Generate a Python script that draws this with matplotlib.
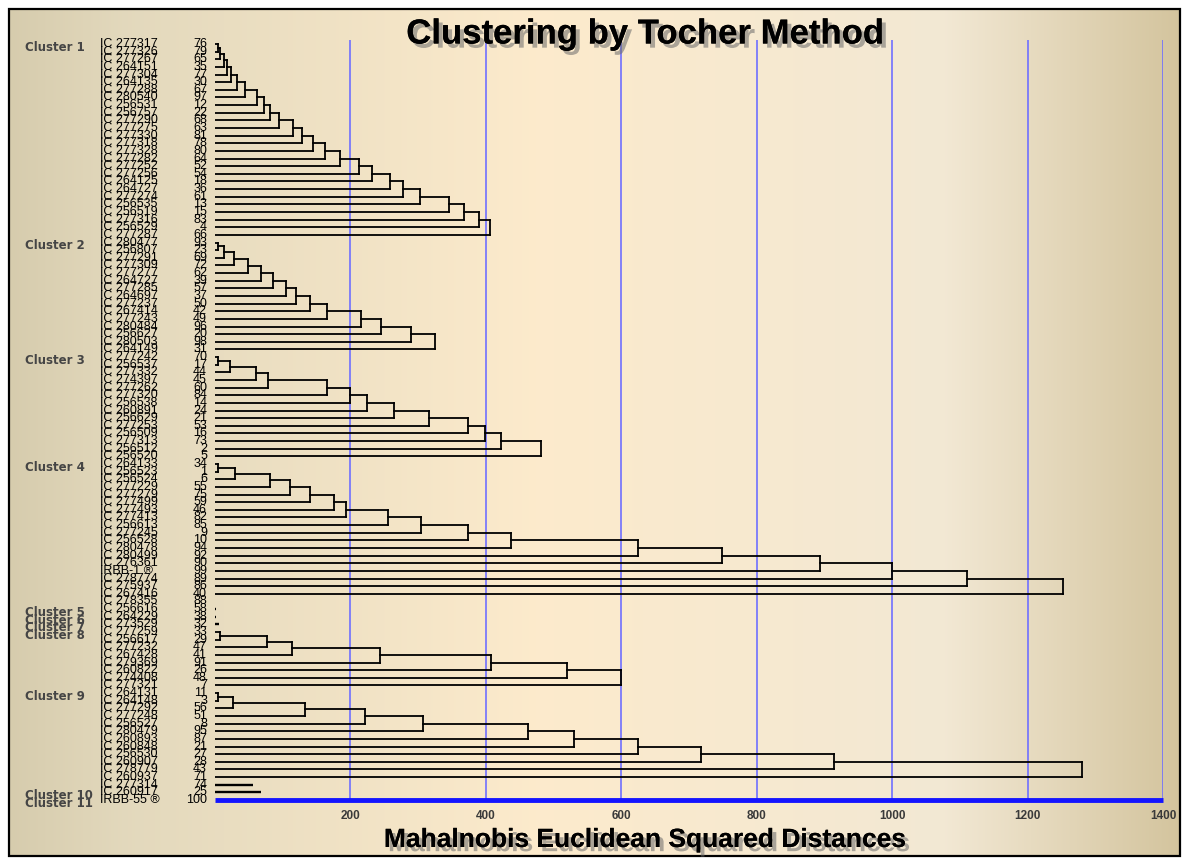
import numpy as np
import matplotlib.pyplot as plt
from matplotlib import patheffects as pe
from matplotlib.patches import Rectangle

# ---- data ----
cluster_labels = ["Cluster 1", "Cluster 2", "Cluster 3", "Cluster 4", "Cluster 5", "Cluster 6",
                  "Cluster 7", "Cluster 8", "Cluster 9", "Cluster 10", "Cluster 11"]

c1_geno = ["IC 277317", "IC 277326", "IC 277267", "IC 264151", "IC 277304", "IC 264135", "IC 277288",
           "IC 280540", "IC 256531", "IC 256757", "IC 277290", "IC 277275", "IC 277330", "IC 277318",
           "IC 277328", "IC 277282", "IC 277252", "IC 277256", "IC 264125", "IC 264727", "IC 277274",
           "IC 256535", "IC 256519", "IC 277316", "IC 256529", "IC 277287"]
c1_code = [76, 79, 65, 35, 77, 30, 67, 97, 12, 22, 68, 63, 81, 78, 80, 64, 52, 54, 18, 36, 61, 13, 15, 83, 4, 66]
c1_join = [4, 8, 13, 18, 24, 33, 45, 62, 72, 81, 95, 115, 128, 145, 162, 185, 213, 232, 258, 278,
           303, 345, 368, 390, 406]

c2_geno = ["IC 280477", "IC 256807", "IC 277291", "IC 277309", "IC 277277", "IC 264727", "IC 277285",
           "IC 264697", "IC 277237", "IC 267414", "IC 277243", "IC 280484", "IC 256627", "IC 280503",
           "IC 264149"]
c2_code = [93, 23, 69, 72, 62, 39, 57, 37, 50, 42, 49, 96, 20, 98, 31]
c2_join = [4, 13, 28, 48, 68, 85, 105, 120, 140, 165, 215, 245, 290, 325]

c3_geno = ["IC 277242", "IC 256537", "IC 277332", "IC 274397", "IC 277262", "IC 277320", "IC 256538",
           "IC 260891", "IC 256629", "IC 277253", "IC 256509", "IC 277313", "IC 256512", "IC 256520"]
c3_code = [70, 17, 44, 45, 60, 84, 14, 24, 21, 53, 16, 73, 2, 5]
c3_join = [4, 22, 61, 79, 166, 200, 224, 265, 316, 374, 398, 422, 481]

c4_geno = ["IC 264133", "IC 256523", "IC 256524", "IC 277229", "IC 277279", "IC 277499", "IC 277493",
           "IC 277413", "IC 256613", "IC 277245", "IC 256528", "IC 280478", "IC 280499", "IC 276361",
           "IRBB-1 \u00ae", "IC 278774", "IC 275937", "IC 267416", "IC 278355"]
c4_code = [34, 1, 6, 55, 75, 59, 46, 82, 85, 9, 10, 94, 92, 90, 99, 89, 86, 40, 88]
c4_join = [4, 30, 81, 111, 141, 175, 193, 256, 304, 373, 437, 624, 748, 893, 1000, 1111, 1252]

c5_geno, c5_code = ["IC 256616"], [58]
c6_geno, c6_code = ["IC 264229"], [38]
c7_geno, c7_code = ["IC 273529"], [32]

c8_geno = ["IC 277259", "IC 256617", "IC 277232", "IC 267428", "IC 279369", "IC 260822", "IC 274408",
           "IC 277321"]
c8_code = [33, 29, 47, 41, 91, 26, 48, 7]
c8_join = [7, 77, 114, 244, 407, 520, 600]

c9_geno = ["IC 264131", "IC 264148", "IC 277292", "IC 277248", "IC 256527", "IC 280479", "IC 260893",
           "IC 260848", "IC 256530", "IC 260907", "IC 278779", "IC 260937", "IC 277314"]
c9_code = [11, 3, 56, 51, 8, 95, 87, 21, 27, 28, 43, 71, 74]
c9_join = [5, 27, 133, 221, 307, 462, 530, 625, 718, 914, 1281]

c10_geno, c10_code = ["IC 260917"], [25]
c11_geno, c11_code = ["IRBB-55 \u00ae"], [100]

# rows that are drawn only as a short stub (not joined to anything)
stub_geno = ["IC 256616", "IC 264229", "IC 273529", "IC 277314", "IC 260917"]
stub_len = [2, 2, 6, 56, 68]

x_ticks = [200, 400, 600, 800, 1000, 1200, 1400]

groups = [(c1_geno, c1_code, c1_join), (c2_geno, c2_code, c2_join), (c3_geno, c3_code, c3_join),
          (c4_geno, c4_code, c4_join), (c5_geno, c5_code, []), (c6_geno, c6_code, []),
          (c7_geno, c7_code, []), (c8_geno, c8_code, c8_join), (c9_geno, c9_code, c9_join),
          (c10_geno, c10_code, []), (c11_geno, c11_code, [])]

W, H = 1186, 859
fig = plt.figure(figsize=(W / 100, H / 100), dpi=100)

# background: beige gradient inside a black frame
bg = fig.add_axes([0, 0, 1, 1])
bg.set_xlim(0, W)
bg.set_ylim(H, 0)
bg.axis("off")
stops = np.array([[0.00, 0.84, 0.80, 0.68],
                  [0.10, 0.89, 0.85, 0.74],
                  [0.45, 0.99, 0.92, 0.80],
                  [0.80, 0.95, 0.91, 0.83],
                  [1.00, 0.83, 0.77, 0.62]])
t = np.linspace(0, 1, 600)
grad = np.stack([np.interp(t, stops[:, 0], stops[:, i]) for i in (1, 2, 3)], axis=-1)
bg.imshow(grad[np.newaxis, :, :], extent=[9, 1180, 856, 9], aspect="auto", zorder=0)
bg.add_patch(Rectangle((9, 9), 1171, 847, fill=False, ec="black", lw=1.6, zorder=2))

# main axes: x=0 at 215 px, 1400 at 1163 px, rows 0..99 between 44 and 800 px
ax = fig.add_axes([215 / W, (H - 800) / H, (1163 - 215) / W, (800 - 40) / H])
ax.patch.set_alpha(0)
n_rows = sum(len(g[0]) for g in groups)
ax.set_xlim(0, 1400)
ax.set_ylim(n_rows - 1, -0.52)
for s in ax.spines.values():
    s.set_visible(False)
ax.set_yticks([])
ax.set_xticks(x_ticks)
ax.tick_params(axis="x", length=0, pad=7)
for lab in ax.get_xticklabels():
    lab.set_fontsize(8.5)
    lab.set_fontweight("bold")
    lab.set_family("Liberation Sans")
    lab.set_color("#3a3a3a")
for xv in x_ticks:
    ax.axvline(xv, color="#6f6fff", lw=1.2, zorder=1)

lw = 1.3
all_geno = [g for grp in groups for g in grp[0]]
row = 0
for ci, (geno, code, joins) in enumerate(groups):
    first = row
    # staircase dendrogram inside the cluster
    nx, ny = 0, first
    for k, d in enumerate(joins, start=1):
        r = first + k
        ax.plot([nx, d], [ny, ny], color="black", lw=lw, zorder=3)
        ax.plot([0, d], [r, r], color="black", lw=lw, zorder=3)
        ax.plot([d, d], [ny, r], color="black", lw=lw, zorder=3)
        nx, ny = d, (ny + r) / 2
    row += len(geno)

for g, ln in zip(stub_geno, stub_len):
    r = all_geno.index(g)
    ax.plot([0, ln], [r, r], color="black", lw=lw + 0.4, zorder=3, solid_capstyle="butt")

# last genotype (check variety) drawn as thick blue line along the axis
ax.plot([0, 1400], [n_rows - 1, n_rows - 1], color="#1414ff", lw=3.5, zorder=4,
        clip_on=False, solid_capstyle="butt")

# labels on the left
px = 1400 / (1163 - 215)
row = 0
for ci, (geno, code, joins) in enumerate(groups):
    ax.text(-190 * px, row + 0.45, cluster_labels[ci], fontsize=8.5, fontweight="bold",
            color="#454545", ha="left", va="center", family="DejaVu Sans", clip_on=False)
    for k, (g, c) in enumerate(zip(geno, code)):
        r = row + k
        ax.text(-115 * px, r, g, fontsize=9, family="Liberation Sans", ha="left", va="center",
                color="black", clip_on=False)
        ax.text(-8 * px, r, str(c), fontsize=9, family="Liberation Sans", ha="right", va="center",
                color="black", clip_on=False)
    row += len(geno)

shadow = [pe.withSimplePatchShadow(offset=(3, -3), shadow_rgbFace="#6b6b6b", alpha=0.55), pe.Normal()]
fig.text(645 / W, 1 - 34 / H, "Clustering by Tocher Method", ha="center", va="center",
         fontsize=25, fontweight="bold", family="Liberation Sans",
         color="black", path_effects=shadow)
fig.text(645 / W, 1 - 840 / H, "Mahalnobis Euclidean Squared Distances", ha="center", va="center",
         fontsize=19, fontweight="bold", family="Liberation Sans",
         color="black", path_effects=shadow)

fig.savefig("out.png", dpi=100)
